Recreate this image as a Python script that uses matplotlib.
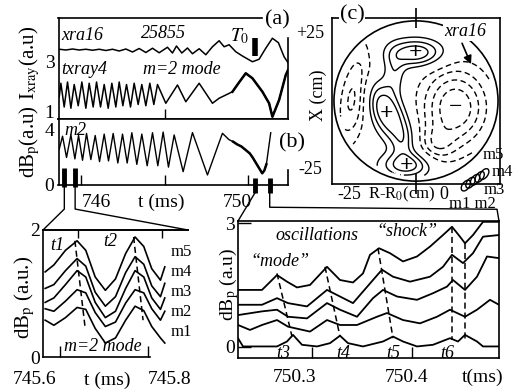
import numpy as np
import matplotlib
matplotlib.use('Agg')
import matplotlib.pyplot as plt
from matplotlib.lines import Line2D
from matplotlib.patches import Circle, Ellipse

plt.rcParams['font.family'] = ['Liberation Serif', 'DejaVu Serif']
plt.rcParams['mathtext.fontset'] = 'stix'
plt.rcParams['axes.linewidth'] = 1.2
plt.rcParams['lines.dashed_pattern'] = [4.0, 2.5]

W, H = 515, 389

# panel (a): soft x-ray chords, shot 25855
xra16_t = [745.467, 745.627, 745.788, 745.948, 746.108, 746.268, 746.429, 746.589, 746.749, 746.909,
           747.070, 747.230, 747.390, 747.551, 747.711, 747.871, 748.071, 748.191, 748.288, 748.416,
           748.552, 748.672, 748.833, 748.993, 749.153, 749.313, 749.434, 749.554, 749.714, 749.874,
           750.114, 750.275, 750.435, 750.595, 750.740, 750.876, 750.972]
xra16_v = [3.51, 3.48, 3.52, 3.48, 3.51, 3.47, 3.51, 3.46, 3.51, 3.44,
           3.52, 3.40, 3.54, 3.38, 3.55, 3.37, 3.59, 3.36, 3.64, 3.36,
           3.56, 3.33, 3.53, 3.29, 3.61, 3.85, 3.61, 3.69, 3.41, 3.24,
           3.01, 3.11, 3.55, 3.95, 3.77, 3.21, 2.97]

txray4_t = [745.467, 745.507, 745.587, 745.667, 745.748, 745.828, 745.924, 746.012, 746.108, 746.188,
            746.284, 746.365, 746.461, 746.549, 746.645, 746.733, 746.829, 746.910, 746.998, 747.086,
            747.182, 747.270, 747.366, 747.454, 747.551, 747.647, 747.743, 747.831, 748.031, 748.312,
            748.512, 748.833, 749.153, 749.313, 749.634, 749.800, 749.954, 750.114, 750.355, 750.515,
            750.595, 750.756, 750.916, 750.972]
txray4_v = [1.60, 2.15, 1.20, 2.20, 1.15, 2.10, 1.25, 2.20, 1.15, 2.15,
            1.20, 2.20, 1.20, 2.10, 1.15, 2.15, 1.20, 2.20, 1.25, 2.10,
            1.20, 2.15, 1.30, 2.10, 1.25, 2.15, 1.30, 2.10, 1.35, 2.08,
            1.41, 2.15, 1.35, 1.55, 1.81, 2.20, 2.55, 2.35, 1.81, 1.35,
            0.81, 1.48, 2.48, 2.68]

# panel (b): m2 coil
m2_t = [745.467, 745.547, 745.643, 745.748, 745.844, 745.932, 746.028, 746.124, 746.228, 746.333,
        746.437, 746.549, 746.653, 746.765, 746.877, 746.990, 747.102, 747.214, 747.334, 747.454,
        747.583, 747.711, 747.839, 747.967, 748.095, 748.232, 748.448, 748.672, 749.033, 749.393,
        749.550, 749.650, 749.750, 749.850, 749.950, 750.050, 750.120, 750.200, 750.280, 750.350,
        750.400, 750.450, 750.500, 750.555]
m2_v = [2.60, 3.55, 2.00, 3.65, 1.90, 3.60, 1.80, 3.75, 1.85, 3.60,
        1.70, 3.70, 1.75, 3.75, 1.60, 3.70, 1.60, 3.80, 1.50, 3.70,
        1.40, 3.80, 1.40, 3.85, 1.30, 3.64, 0.97, 3.81, 0.73, 3.76,
        3.30, 3.15, 2.95, 2.80, 2.55, 2.30, 2.00, 1.60, 1.20, 0.85,
        1.05, 1.50, 2.60, 3.80]

# time windows marked on the axis of (b), and T0
win_t = [745.59, 745.85, 750.17, 750.53]
t0_mark = 750.17

# lower left: coils m1..m5 around 745.7 ms
ll_t = [745.603, 745.615, 745.631, 745.647, 745.659, 745.672, 745.686, 745.700, 745.714, 745.727,
        745.739, 745.750, 745.762, 745.768]
ll_m5 = [1.34, 1.45, 1.68, 1.83, 1.68, 1.26, 1.05, 1.23, 1.63, 1.89, 1.74, 1.39, 1.21, 1.42]
ll_m4 = [1.08, 1.14, 1.36, 1.55, 1.43, 1.02, 0.80, 0.95, 1.33, 1.58, 1.46, 1.12, 0.95, 1.16]
ll_m3 = [0.86, 0.93, 1.14, 1.36, 1.26, 0.86, 0.62, 0.72, 1.08, 1.36, 1.26, 0.93, 0.75, 0.93]
ll_m2 = [0.76, 0.72, 0.88, 1.06, 1.01, 0.70, 0.48, 0.55, 0.85, 1.06, 1.01, 0.76, 0.58, 0.72]
ll_m1 = [0.58, 0.50, 0.62, 0.78, 0.75, 0.45, 0.22, 0.30, 0.58, 0.80, 0.73, 0.48, 0.30, 0.22]
ll_names = ['m5', 'm4', 'm3', 'm2', 'm1']
ll_label_v = [1.66, 1.34, 1.02, 0.71, 0.39]
t1_t, t1_v = [745.644, 745.658], [1.83, 0.47]
t2_t, t2_v = [745.725, 745.738], [1.89, 0.58]

# lower right: the five coils around 750.35 ms (top to bottom)
lrA_t = [750.226, 750.250, 750.265, 750.275, 750.285, 750.298, 750.315, 750.328, 750.341, 750.351,
         750.358, 750.367, 750.378, 750.391, 750.405, 750.418, 750.431, 750.440, 750.448, 750.453,
         750.461, 750.471, 750.487]
lrA_v = [1.38, 1.38, 1.74, 1.58, 1.44, 1.50, 1.94, 1.62, 1.56, 1.78,
         2.23, 2.39, 2.27, 2.07, 2.19, 2.43, 2.71, 2.91, 2.67, 2.51,
         2.71, 3.03, 3.03]
lrB_t = [750.226, 750.250, 750.265, 750.276, 750.295, 750.315, 750.328, 750.341, 750.361, 750.370,
         750.381, 750.398, 750.418, 750.431, 750.440, 750.451, 750.461, 750.471, 750.487]
lrB_v = [1.02, 1.02, 1.18, 1.06, 0.98, 1.38, 1.22, 1.06, 1.62, 1.87,
         1.70, 1.58, 1.70, 1.94, 2.23, 2.03, 2.27, 2.67, 2.71]
lrC_t = [750.226, 750.250, 750.265, 750.276, 750.295, 750.315, 750.328, 750.345, 750.361, 750.371,
         750.385, 750.405, 750.421, 750.435, 750.441, 750.453, 750.465, 750.475, 750.487]
lrC_v = [0.77, 0.86, 0.90, 0.73, 0.69, 1.06, 0.90, 0.73, 1.18, 1.38,
         1.22, 1.14, 1.30, 1.46, 1.62, 1.38, 1.70, 2.19, 2.15]
lrD_t = [750.226, 750.238, 750.250, 750.265, 750.276, 750.298, 750.315, 750.328, 750.345, 750.365,
         750.375, 750.391, 750.408, 750.425, 750.438, 750.453, 750.465, 750.478, 750.487]
lrD_v = [0.53, 0.41, 0.53, 0.65, 0.49, 0.37, 0.65, 0.53, 0.53, 0.73,
         0.82, 0.65, 0.57, 0.73, 0.90, 0.73, 0.90, 1.14, 1.02]
lrE_t = [750.226, 750.231, 750.265, 750.275, 750.281, 750.290, 750.305, 750.318, 750.328, 750.336,
         750.351, 750.371, 750.381, 750.391, 750.405, 750.421, 750.438, 750.446, 750.453, 750.465,
         750.471, 750.487]
lrE_v = [0.21, 0.01, 0.01, 0.13, 0.29, 0.05, 0.01, 0.09, 0.27, 0.09,
         0.01, 0.13, 0.25, 0.13, 0.01, 0.05, 0.21, 0.13, 0.29, 0.13,
         0.01, 0.01]
t3_t, t3_v = [750.265, 750.280], [1.78, 0.25]
t4_t, t4_v = [750.313, 750.328], [1.94, 0.25]
t5_t, t5_v = [750.366, 750.381], [2.39, 0.21]
t6a_t, t6a_v = [750.440, 750.440], [2.91, 0.17]
t6b_t, t6b_v = [750.453, 750.453], [2.51, 0.13]
tlab_t = [750.271, 750.331, 750.381, 750.435]
tlab_s = ['t3', 't4', 't5', 't6']

# panel (c): blobs that build the x-ray emissivity map
blob_x = [0.0, -8.5, -3.0, -6.5, -4.0, 12.0, -19.0, 6.0]
blob_y = [15.0, -4.0, -20.0, 8.5, -13.0, -2.0, 2.0, -14.0]
blob_amp = [1.0, 1.1, 0.9, 0.4, 0.3, -1.25, -0.85, -0.5]
blob_sx = [6.0, 7.5, 5.5, 2.2, 2.2, 7.0, 3.5, 4.0]
blob_sy = [3.0, 3.5, 2.8, 4.5, 3.5, 8.5, 11.0, 4.0]
blob_ang = [0, -62, 0, 0, 0, 0, -10, 0]
plus_x, plus_y = [0.0, -9.0, -3.0], [15.0, -4.0, -20.0]
probe_x = [15.2, 16.6, 18.0, 19.4, 20.8]
probe_y = [-26.4, -25.5, -24.6, -23.7, -22.8]


def box(x0, y0, x1, y1):
    return [x0 / W, 1 - y1 / H, (x1 - x0) / W, (y1 - y0) / H]


def ftext(x, y, s, **kw):
    return fig.text(x / W, 1 - y / H, s, **kw)


fig = plt.figure(figsize=(W / 100, H / 100), dpi=100)
ax_a = fig.add_axes(box(58.5, 18, 288, 119))
ax_b = fig.add_axes(box(58.5, 119, 288, 185))
ax_c = fig.add_axes(box(332, 18, 500, 184))
ax_ll = fig.add_axes(box(43, 230, 188, 357))
ax_lr = fig.add_axes(box(238, 221, 499, 358))

# ---- (a)
ax_a.plot(xra16_t, xra16_v, color='k', lw=1.1)
ax_a.plot(txray4_t, txray4_v, color='k', lw=1.1)
late = [i for i, t in enumerate(txray4_t) if t >= 749.6]
ax_a.plot([txray4_t[i] for i in late], [txray4_v[i] for i in late], color='k', lw=1.8)
ax_a.plot([t0_mark, t0_mark], [3.24, 3.96], color='k', lw=4, solid_capstyle='butt')
ax_a.set_xlim(745.45, 750.97)
ax_a.set_ylim(0.72, 4.76)
ax_a.set_xticks([748])
ax_a.set_xticklabels([])
ax_a.tick_params(axis='x', direction='in', length=7, width=1)
ax_a.set_yticks([1, 3])
ax_a.tick_params(axis='y', length=0, labelsize=14, pad=3)
ax_a.spines['right'].set_bounds(0.72, 3.96)
ax_a.spines['top'].set_bounds(745.45, 750.34)
ax_a.text(745.51, 4.08, 'xra16', style='italic', fontsize=13, va='center')
ax_a.text(747.98, 4.16, '25855', style='italic', fontsize=13, va='center', ha='center')
ax_a.text(749.81, 4.02, '$T_0$', fontsize=14, va='center', ha='center')
ax_a.text(745.51, 2.68, 'txray4', style='italic', fontsize=13, va='center')
ax_a.text(748.42, 2.68, 'm=2 mode', style='italic', fontsize=13, va='center', ha='center')

# ---- (b)
ax_b.plot(m2_t, m2_v, color='k', lw=1.0)
late = [i for i, t in enumerate(m2_t) if t >= 749.6 and t <= 750.45]
ax_b.plot([m2_t[i] for i in late], [m2_v[i] for i in late], color='k', lw=1.8)
ax_b.set_xlim(745.45, 750.97)
ax_b.set_ylim(0, 4.8)
ax_b.set_xticks([746, 748, 750])
ax_b.set_xticklabels([])
ax_b.tick_params(axis='x', direction='in', length=7, width=1)
ax_b.set_yticks([0, 4])
ax_b.tick_params(axis='y', length=0, labelsize=14, pad=3)
ax_b.spines['right'].set_bounds(0, 1.1)
ax_b.text(745.58, 3.95, 'm2', style='italic', fontsize=13, va='center')
xt = ax_b.get_xaxis_transform()
ax_b.text(746.35, -0.26, '746', transform=xt, fontsize=14, ha='center', va='center')
ax_b.text(747.93, -0.26, 't (ms)', transform=xt, fontsize=14, ha='center', va='center')
ax_b.text(749.74, -0.26, '750', transform=xt, fontsize=14, ha='center', va='center')
bar_lo = [1.2, 1.2, 0.5, 0.5]
bar_hi = [-0.15, -0.15, -0.6, -0.6]
for t, lo, hi in zip(win_t, bar_lo, bar_hi):
    ax_b.plot([t, t], [hi, lo], color='k', lw=3.5, solid_capstyle='butt', clip_on=False)

ftext(277, 20, '(a)', fontsize=16, ha='center', va='center')
ftext(292, 143, '(b)', fontsize=16, ha='center', va='center')
ftext(30, 63, r'I$_{\rm xray}$(a.u)', fontsize=15, rotation=90, ha='center', va='center')
ftext(30, 142, r'dB$_{\rm p}$(a.u)', fontsize=15, rotation=90, ha='center', va='center')

# ---- (c)
gx, gy = np.meshgrid(np.linspace(-25, 25, 251), np.linspace(-25, 25, 251))
field = np.zeros_like(gx)
for x0, y0, a, sx, sy, ang in zip(blob_x, blob_y, blob_amp, blob_sx, blob_sy, blob_ang):
    th = np.deg2rad(ang)
    dx, dy = gx - x0, gy - y0
    u = dx * np.cos(th) + dy * np.sin(th)
    v = -dx * np.sin(th) + dy * np.cos(th)
    field += a * np.exp(-0.5 * ((u / sx) ** 2 + (v / sy) ** 2))
field[np.hypot(gx, gy) > 23.5] = np.nan
ax_c.contour(gx, gy, field, levels=[-1.0, -0.75, -0.5, -0.25, 0.25, 0.5, 0.75],
             colors='k', linewidths=1.0)
ax_c.add_patch(Circle((0, 0), 25, fill=False, lw=1.2, color='k'))
for x, y in zip(plus_x, plus_y):
    ax_c.text(x, y, '+', fontsize=17, fontweight='bold', ha='center', va='center')
ax_c.text(12, -2, '\u2212', fontsize=17, ha='center', va='center')
ax_c.set_xlim(-25.6, 25.6)
ax_c.set_ylim(-25.9, 25.9)
ax_c.set_xticks([0])
ax_c.set_xticklabels([])
ax_c.set_yticks([])
ax_c.tick_params(axis='x', direction='inout', length=14, width=1.2, top=True, bottom=True)
ax_c.annotate('', xy=(17.1, 10.7), xytext=(13.7, 18.8),
              arrowprops=dict(arrowstyle='-|>', color='k', lw=1.2, mutation_scale=12))
ax_c.text(14.9, 21.6, 'xra16', style='italic', fontsize=13, ha='center', va='center',
          bbox=dict(fc='white', ec='none', pad=0.5))
for x, y in zip(probe_x, probe_y):
    ax_c.add_patch(Ellipse((x, y), 2.2, 3.8, angle=-35, fill=False, lw=1.0, color='k', clip_on=False))

ftext(352, 15, '(c)', fontsize=16, ha='center', va='center',
      bbox=dict(fc='white', ec='none', pad=0.5))
ftext(310, 33, '+25', fontsize=13, ha='center', va='center')
ftext(310, 170, '-25', fontsize=13, ha='center', va='center')
ftext(318, 95, 'X (cm)', fontsize=13, rotation=90, ha='center', va='center')
ftext(349, 194, '-25', fontsize=13, ha='center', va='center')
ftext(402, 194, r'R-R$_0$(cm)', fontsize=12, ha='center', va='center')
ftext(444, 194, '0', fontsize=13, ha='center', va='center')
ftext(493, 155, 'm5', fontsize=12, ha='center', va='center')
ftext(502, 172, 'm4', fontsize=12, ha='center', va='center')
ftext(494, 190, 'm3', fontsize=12, ha='center', va='center')
ftext(472, 204, 'm1 m2', fontsize=12, ha='center', va='center')

# ---- lower left
for vals in [ll_m5, ll_m4, ll_m3, ll_m2, ll_m1]:
    ax_ll.plot(ll_t, vals, color='k', lw=1.2)
ax_ll.plot(t1_t, t1_v, color='k', lw=1.1, ls='--')
ax_ll.plot(t2_t, t2_v, color='k', lw=1.1, ls='--')
for name, v in zip(ll_names, ll_label_v):
    ax_ll.text(745.776, v, name, fontsize=12, va='center')
ax_ll.text(745.620, 1.76, 't1', style='italic', fontsize=13, ha='center', va='center')
ax_ll.text(745.693, 1.82, 't2', style='italic', fontsize=13, ha='center', va='center')
ax_ll.text(745.683, 0.16, 'm=2 mode', style='italic', fontsize=13, ha='center', va='center')
ax_ll.set_xlim(745.6, 745.8)
ax_ll.set_ylim(0, 2)
ax_ll.set_xticks([745.623, 745.745])
ax_ll.set_xticklabels([])
ax_ll.tick_params(axis='x', direction='in', length=8, width=1)
top_ax = ax_ll.secondary_xaxis('top')
top_ax.set_xticks([745.648, 745.764])
top_ax.set_xticklabels([])
top_ax.tick_params(direction='in', length=6, width=1)
ax_ll.set_yticks([0, 2])
ax_ll.tick_params(axis='y', length=0, labelsize=14, pad=2)
ax_ll.spines['right'].set_visible(False)
ax_ll.spines['bottom'].set_bounds(745.6, 745.747)
ax_ll.text(-0.055, -0.18, '745.6', transform=ax_ll.transAxes, fontsize=14, ha='center', va='center')
ax_ll.text(0.44, -0.18, 't (ms)', transform=ax_ll.transAxes, fontsize=14, ha='center', va='center')
ax_ll.text(0.876, -0.18, '745.8', transform=ax_ll.transAxes, fontsize=14, ha='center', va='center')
ftext(25, 297, r'dB$_{\rm p}$ (a.u.)', fontsize=15, rotation=90, ha='center', va='center')

# ---- lower right
for tt, vv in [(lrA_t, lrA_v), (lrB_t, lrB_v), (lrC_t, lrC_v), (lrD_t, lrD_v), (lrE_t, lrE_v)]:
    ax_lr.plot(tt, vv, color='k', lw=1.3)
for tt, vv in [(t3_t, t3_v), (t4_t, t4_v), (t5_t, t5_v), (t6a_t, t6a_v), (t6b_t, t6b_v)]:
    ax_lr.plot(tt, vv, color='k', lw=1.1, ls='--')
for t, s in zip(tlab_t, tlab_s):
    ax_lr.text(t, -0.15, s, style='italic', fontsize=13, ha='center', va='center')
ax_lr.text(750.305, 2.71, 'oscillations', style='italic', fontsize=13, ha='center', va='center')
ax_lr.text(750.395, 2.79, '\u201cshock\u201d', style='italic', fontsize=13, ha='center', va='center')
ax_lr.text(750.268, 2.07, '\u201cmode\u201d', style='italic', fontsize=13, ha='center', va='center')
ax_lr.set_xlim(750.226, 750.487)
ax_lr.set_ylim(-0.27, 3.05)
ax_lr.set_xticks([750.3, 750.4])
ax_lr.set_xticklabels([])
ax_lr.tick_params(axis='x', direction='in', length=8, width=1)
ax_lr.set_yticks([0, 3])
ax_lr.tick_params(axis='y', direction='in', length=9, width=1, labelsize=14, pad=2)
ax_lr.text(750.283, -0.14, '750.3', transform=ax_lr.get_xaxis_transform(), fontsize=14,
           ha='center', va='center')
ax_lr.text(750.395, -0.14, '750.4', transform=ax_lr.get_xaxis_transform(), fontsize=14,
           ha='center', va='center')
ax_lr.text(750.471, -0.14, 't(ms)', transform=ax_lr.get_xaxis_transform(), fontsize=14,
           ha='center', va='center')
ftext(229, 284, r'dB$_{\rm p}$ (a.u)', fontsize=14, rotation=90, ha='center', va='center')

# ---- connectors from the marked windows to the zoomed panels
inv = fig.transFigure.inverted()


def to_fig(ax, x, y, trans=None):
    tr = trans if trans is not None else ax.transData
    return inv.transform(tr.transform((x, y)))


drop = 22 / H
p0 = to_fig(ax_b, win_t[0], -0.15)
p1 = to_fig(ax_ll, 0, 1, ax_ll.transAxes)
fig.add_artist(Line2D([p0[0], p0[0], p1[0]], [p0[1], p0[1] - drop, p1[1]], color='k', lw=1.0))
p0 = to_fig(ax_b, win_t[1], -0.15)
p1 = to_fig(ax_ll, 1, 1, ax_ll.transAxes)
fig.add_artist(Line2D([p0[0], p0[0], p1[0]], [p0[1], p0[1] - drop, p1[1]], color='k', lw=1.0))
p0 = to_fig(ax_b, win_t[2], -0.6)
p1 = to_fig(ax_lr, 0, 1, ax_lr.transAxes)
fig.add_artist(Line2D([p0[0], p1[0]], [p0[1], p1[1]], color='k', lw=1.0))
p0 = to_fig(ax_b, win_t[3], -0.6)
p1 = to_fig(ax_lr, 1, 1, ax_lr.transAxes)
fig.add_artist(Line2D([p0[0], p0[0], p1[0] - 2 / W, p1[0]],
                      [p0[1], p0[1] - 14 / H, p0[1] - 16 / H, p1[1]], color='k', lw=1.0))

fig.savefig('out.png', dpi=100)
